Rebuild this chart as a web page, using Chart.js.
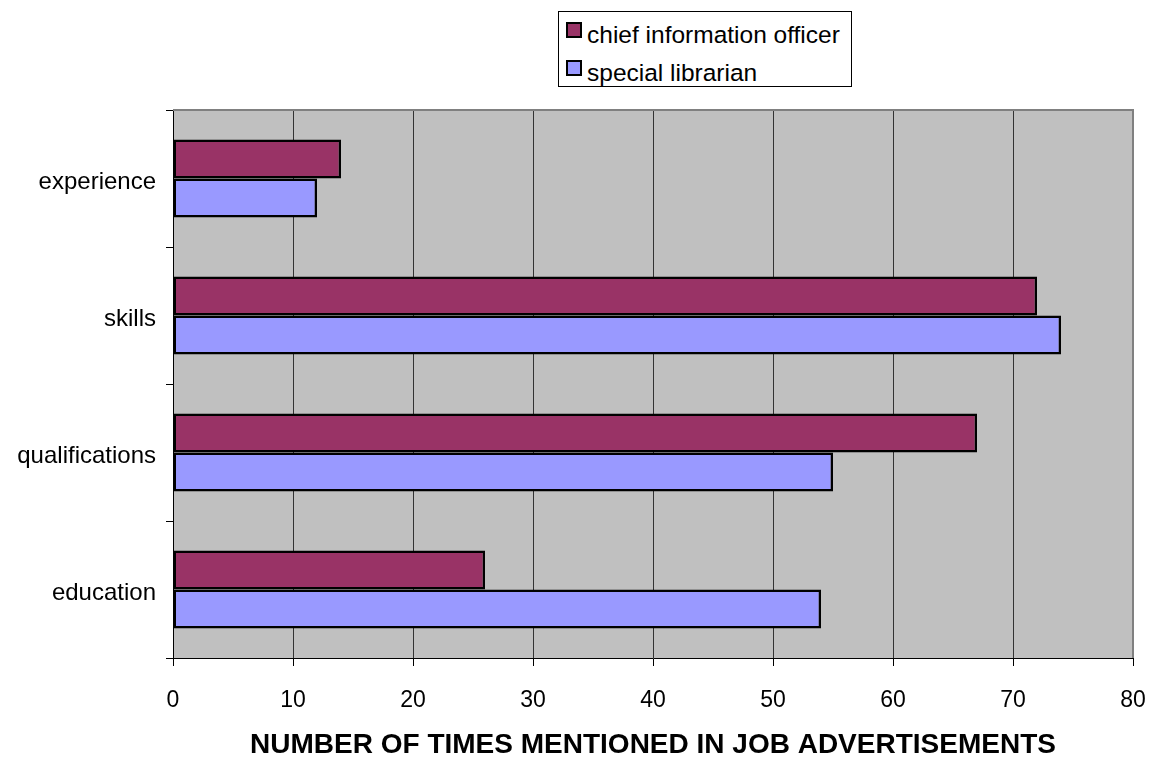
<!DOCTYPE html>
<html>
<head>
<meta charset="utf-8">
<script src="https://cdn.jsdelivr.net/npm/chart.js@4.4.1/dist/chart.umd.min.js"></script>
<style>
html,body{margin:0;padding:0;background:#fff;}
#wrap{position:relative;width:1160px;height:759px;}
#legend{position:absolute;left:558px;top:11px;width:294px;height:76px;border:1px solid #000;background:#fff;font-family:"Liberation Sans",Arial,sans-serif;font-size:24.5px;color:#000;box-sizing:border-box;}
.item{position:absolute;left:7px;height:26px;line-height:26px;white-space:nowrap;}
.sw{display:inline-block;width:12px;height:12px;border:2px solid #000;vertical-align:middle;margin-right:5px;position:relative;top:-7px;}
</style>
</head>
<body>
<div id="wrap">
<canvas id="c" width="1160" height="759"></canvas>
<div id="legend"></div>
</div>
<script>
const categories = ["experience", "skills", "qualifications", "education"];
const seriesNames = ["chief information officer", "special librarian"];
const cioValues = [14, 72, 67, 26];
const librarianValues = [12, 74, 55, 54];
const seriesColors = ["#993366", "#9999FF"];
const xTicks = [0, 10, 20, 30, 40, 50, 60, 70, 80];
const xTitle = "NUMBER OF TIMES MENTIONED IN JOB ADVERTISEMENTS";

const FONT = '"Liberation Sans", Arial, sans-serif';

// HTML legend
const leg = document.getElementById('legend');
seriesNames.forEach((n, i) => {
  const d = document.createElement('div');
  d.className = 'item';
  d.style.top = (i === 0 ? 23 : 61) - 13 + 'px';
  d.innerHTML = '<span class="sw" style="background:' + seriesColors[i] + '"></span>' + n;
  leg.appendChild(d);
});

const plotBg = {
  id: 'plotBg',
  beforeDraw(chart) {
    const {ctx, chartArea: a} = chart;
    ctx.save();
    ctx.fillStyle = '#C0C0C0';
    ctx.fillRect(a.left, a.top, a.right - a.left, a.bottom - a.top);
    ctx.restore();
  },
  afterDatasetsDraw(chart) {
    const {ctx, chartArea: a} = chart;
    ctx.save();
    ctx.strokeStyle = '#808080';
    ctx.lineWidth = 2;
    ctx.beginPath();
    ctx.moveTo(a.left, a.top);
    ctx.lineTo(a.right, a.top);
    ctx.lineTo(a.right, a.bottom);
    ctx.stroke();
    ctx.restore();
  }
};

new Chart(document.getElementById('c'), {
  type: 'bar',
  data: {
    labels: categories,
    datasets: [
      {label: seriesNames[0], data: cioValues, backgroundColor: seriesColors[0], borderColor: '#000', borderWidth: 2.5, borderSkipped: false},
      {label: seriesNames[1], data: librarianValues, backgroundColor: seriesColors[1], borderColor: '#000', borderWidth: 2.5, borderSkipped: false}
    ]
  },
  options: {
    indexAxis: 'y',
    responsive: false,
    animation: false,
    layout: {padding: {left: 0, top: 110, right: 27, bottom: 0}},
    datasets: {bar: {categoryPercentage: 0.57, barPercentage: 1.0}},
    plugins: {legend: {display: false}, tooltip: {enabled: false}},
    scales: {
      x: {
        min: 0, max: 80,
        afterBuildTicks(s) { s.ticks = xTicks.map(v => ({value: v})); },
        afterFit(s) { s.height = 101; s.paddingLeft = 0; s.paddingRight = 0; },
        ticks: {font: {family: FONT, size: 23}, color: '#000', padding: 21},
        grid: {color: '#333', lineWidth: 1, tickLength: 8, drawOnChartArea: true, tickColor: '#000'},
        border: {color: '#000', width: 1},
        title: {display: true, text: xTitle, color: '#000', font: {family: FONT, size: 28, weight: 'bold'}, padding: {top: 12, bottom: -3}}
      },
      y: {
        afterFit(s) { s.width = 173; s.paddingTop = 0; s.paddingBottom = 0; },
        ticks: {font: {family: FONT, size: 24}, color: '#000', padding: 10, labelOffset: 4},
        grid: {drawOnChartArea: false, offset: true, tickLength: 7, color: '#000'},
        border: {color: '#000', width: 1}
      }
    }
  },
  plugins: [plotBg]
});
</script>
</body>
</html>
